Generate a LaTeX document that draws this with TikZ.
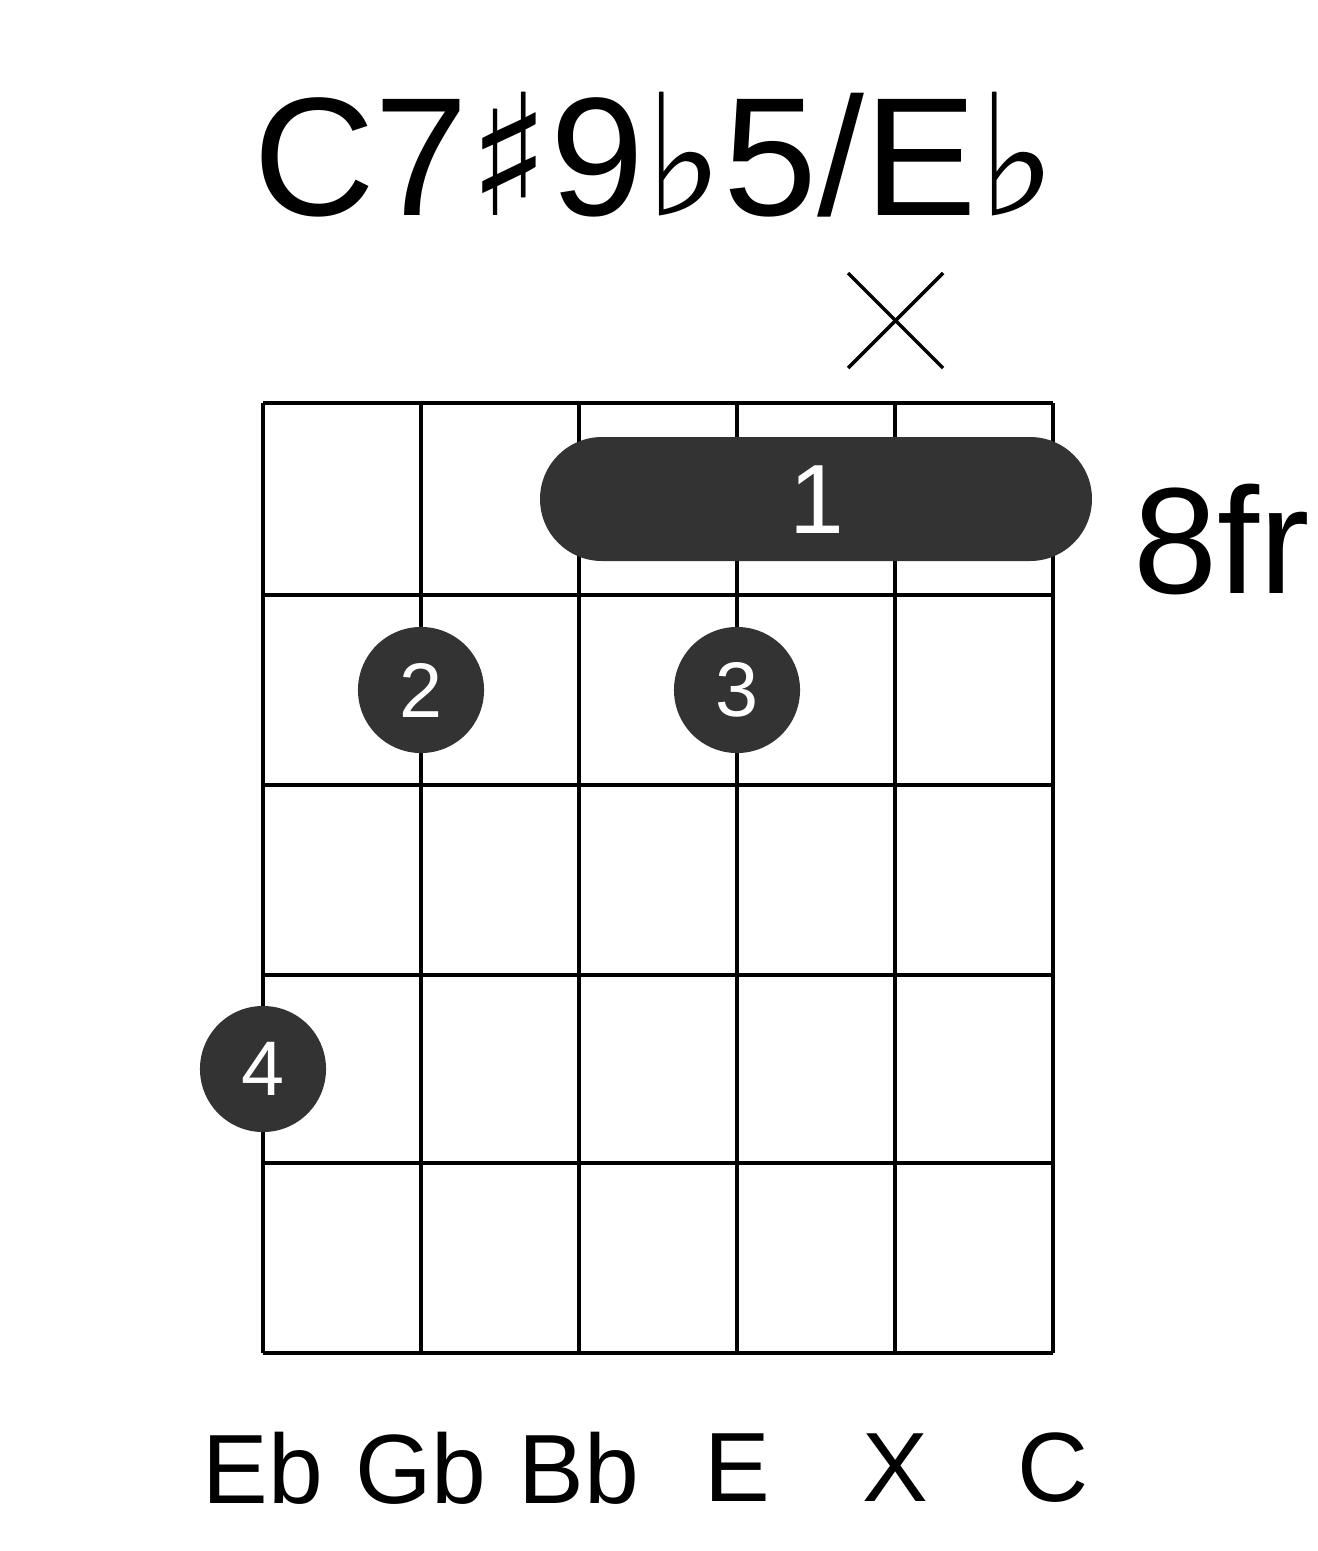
\documentclass[tikz,border=0pt]{standalone}
\usepackage{fontspec}
\setmainfont{Liberation Sans}
\newfontfamily\symfont{DejaVu Sans}
\usetikzlibrary{positioning}
\definecolor{dotgray}{HTML}{333333}
\begin{document}
\begin{tikzpicture}[x=0.01cm,y=-0.01cm]
	\tikzstyle{Grid}	= [line width=1.15pt, black]
	\tikzstyle{Finger}	= [circle, fill=dotgray, minimum size=1.26cm, inner sep=0pt, text=white, font=\fontsize{22}{22}\selectfont]
	\tikzstyle{Barre}	= [rounded corners=0.62cm, fill=dotgray]
	\tikzstyle{Note}	= [font=\fontsize{28}{28}\selectfont]

	\useasboundingbox (0,0) rectangle (1317,1551);

	\node (title) at (655,155) {\fontsize{48}{48}\selectfont C7{\symfont ♯}9{\symfont ♭}5/E{\symfont ♭}};

	% grid
	\foreach \x in {263,421,579,737,895,1053}
		\draw [Grid] (\x,403) -- (\x,1353);
	\foreach \y in {403,595,785,975,1163,1353}
		\draw [Grid] (263,\y) -- (1053,\y);

	% muted string
	\draw [line width=1pt] (848,273) -- (943,368);
	\draw [line width=1pt] (943,273) -- (848,368);

	% barre and fingers
	\fill [Barre] (540,437) rectangle (1092,561);
	\node (f1) at (817,500) [text=white, font=\fontsize{28}{28}\selectfont] {1};
	\node (f2) at (421,690) [Finger] {2};
	\node (f3) at (737,690) [Finger] {3};
	\node (f4) at (263,1069) [Finger] {4};

	\node (fret) at (1222,540) {\fontsize{43}{43}\selectfont 8fr};

	% note names
	\node (n1) at (263,1468) [Note] {Eb};
	\node (n2) at (421,1468) [Note] {Gb};
	\node (n3) at (579,1468) [Note] {Bb};
	\node (n4) at (737,1468) [Note] {E};
	\node (n5) at (895,1468) [Note] {X};
	\node (n6) at (1053,1468) [Note] {C};
\end{tikzpicture}
\end{document}
